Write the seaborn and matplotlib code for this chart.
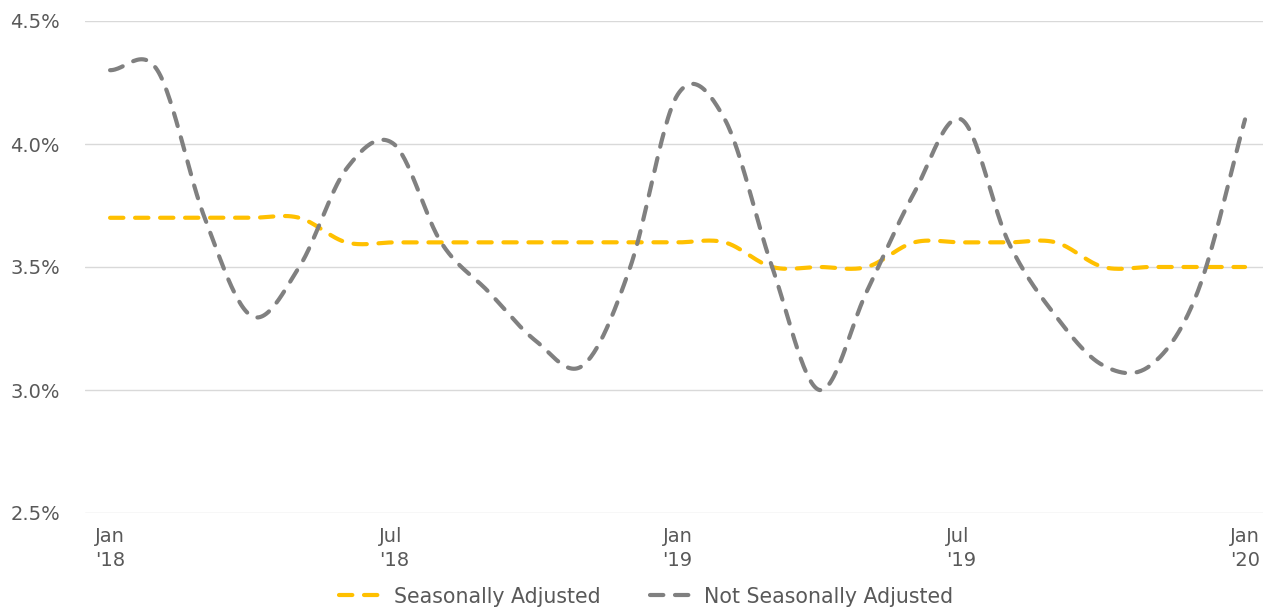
import numpy as np
import pandas as pd
import matplotlib
matplotlib.use("Agg")
import matplotlib.pyplot as plt
import seaborn as sns

# --------------------------------
# Data (monthly, Jan '18 - Jan '20)
# --------------------------------
months = list(range(25))
seasonally_adjusted = [3.7, 3.7, 3.7, 3.7, 3.7, 3.6, 3.6, 3.6, 3.6, 3.6, 3.6, 3.6,
                       3.6, 3.6, 3.5, 3.5, 3.5, 3.6, 3.6, 3.6, 3.6, 3.5, 3.5, 3.5,
                       3.5]
not_seasonally_adjusted = [4.3, 4.3, 3.7, 3.3, 3.5, 3.9, 4.0, 3.6, 3.4, 3.2, 3.1, 3.5,
                           4.2, 4.1, 3.5, 3.0, 3.4, 3.8, 4.1, 3.6, 3.3, 3.1, 3.1, 3.4,
                           4.1]
tick_pos = [0, 6, 12, 18, 24]
tick_labels = ["Jan\n'18", "Jul\n'18", "Jan\n'19", "Jul\n'19", "Jan\n'20"]
y_ticks = [2.5, 3.0, 3.5, 4.0, 4.5]

YELLOW = "#FFC000"
GREY = "#808080"
TEXT = "#595959"


def smooth(x, y, n=30):
    # Catmull-Rom style smoothing, like a spreadsheet "smoothed line"
    x = np.asarray(x, float)
    y = np.asarray(y, float)
    m = np.gradient(y, x, edge_order=1)
    m[1:-1] = (y[2:] - y[:-2]) / (x[2:] - x[:-2])
    xs, ys = [], []
    for i in range(len(x) - 1):
        t = np.linspace(0, 1, n, endpoint=False)
        h = x[i + 1] - x[i]
        h00 = 2 * t**3 - 3 * t**2 + 1
        h10 = t**3 - 2 * t**2 + t
        h01 = -2 * t**3 + 3 * t**2
        h11 = t**3 - t**2
        xs.append(x[i] + t * h)
        ys.append(h00 * y[i] + h10 * h * m[i] + h01 * y[i + 1] + h11 * h * m[i + 1])
    xs.append([x[-1]])
    ys.append([y[-1]])
    return np.concatenate(xs), np.concatenate(ys)


def main():
    sns.set_theme(style="white")
    plt.rcParams["font.family"] = ["DejaVu Sans"]

    fig = plt.figure(figsize=(12.65, 6.08), dpi=100)
    ax = fig.add_axes([85 / 1265, 1 - 513 / 608, (1263 - 85) / 1265, (513 - 21) / 608])

    sx, sy = smooth(months, seasonally_adjusted)
    nx, ny = smooth(months, not_seasonally_adjusted)
    df = pd.concat([
        pd.DataFrame({"month": sx, "rate": sy, "series": "Seasonally Adjusted"}),
        pd.DataFrame({"month": nx, "rate": ny, "series": "Not Seasonally Adjusted"}),
    ])

    for name, color in [("Seasonally Adjusted", YELLOW), ("Not Seasonally Adjusted", GREY)]:
        sub = df[df["series"] == name]
        sns.lineplot(x=sub["month"], y=sub["rate"], ax=ax, color=color, lw=3.0,
                     sort=False, label=name, dashes=False, estimator=None)
        line = ax.lines[-1]
        line.set_dashes((3.2, 2.8))
        line.set_dash_capstyle("round")

    ax.set_xlim(-0.53, 24.38)
    ax.set_ylim(2.5, 4.5)
    ax.set_yticks(y_ticks)
    ax.set_yticklabels([f"{v:.1f}%" for v in y_ticks])
    ax.set_xticks(tick_pos)
    ax.set_xticklabels(tick_labels, multialignment="left", linespacing=1.35)
    ax.tick_params(axis="both", length=0, labelsize=14, labelcolor=TEXT)
    ax.tick_params(axis="y", pad=18)
    ax.tick_params(axis="x", pad=10)
    ax.set_xlabel("")
    ax.set_ylabel("")
    ax.grid(axis="y", color="#D9D9D9", lw=1)
    ax.grid(axis="x", visible=False)
    for s in ax.spines.values():
        s.set_visible(False)

    handles, labels = ax.get_legend_handles_labels()
    ax.legend_.remove()
    leg = fig.legend(handles, labels, loc="lower center", ncol=2, frameon=False,
                     bbox_to_anchor=(0.511, -0.028), fontsize=14.8,
                     handlelength=2.1, handletextpad=0.55, columnspacing=2.4)
    for t in leg.get_texts():
        t.set_color(TEXT)

    fig.savefig("out.png", dpi=100)
    plt.close(fig)


if __name__ == "__main__":
    main()
